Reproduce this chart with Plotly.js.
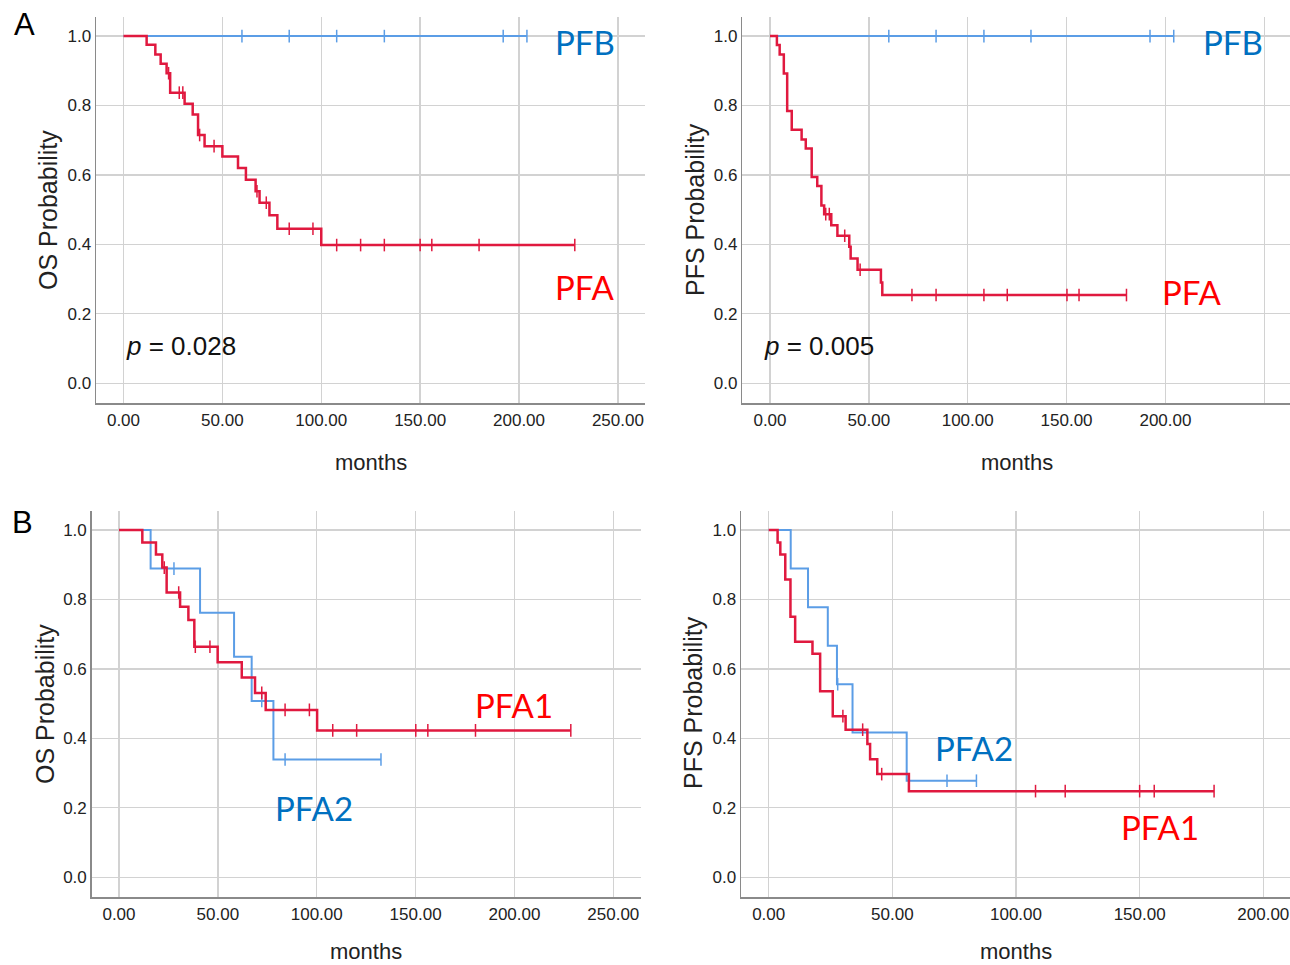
<!DOCTYPE html>
<html><head><meta charset="utf-8">
<script src="https://cdn.plot.ly/plotly-3.0.1.min.js"></script>
<style>body{margin:0;background:#fff}#chart{width:1290px;height:965px}</style>
</head><body><div id="chart"></div>
<script>
// ---------- tick labels ----------
const xTicksWide = [0, 50, 100, 150, 200, 250];
const xTicksNarrow = [0, 50, 100, 150, 200];
const yTicks = [0, 0.2, 0.4, 0.6, 0.8, 1.0];

// ---------- Panel A, OS: PFB vs PFA ----------
const osPfbTimes = [0];
const osPfbSurv = [1.0];
const osPfbCensor = [59.9, 83.8, 107.8, 131.9, 192.0, 204.0];

const osPfaTimes = [0, 11.7, 16.1, 18.8, 21.8, 23.6, 30.9, 35.0, 37.7, 41.0, 50.0, 57.9, 61.9, 66.8, 68.8, 73.8, 77.8, 100.0];
const osPfaSurv  = [1.0, 0.975, 0.947, 0.920, 0.893, 0.837, 0.805, 0.774, 0.715, 0.683, 0.653, 0.620, 0.586, 0.553, 0.520, 0.484, 0.445, 0.398];
const osPfaCensor = [22.8, 28.2, 30.0, 38.5, 45.8, 67.5, 72.2, 83.8, 95.8, 107.8, 119.9, 131.9, 150.0, 155.9, 179.8, 228.2];

// ---------- Panel A, PFS: PFB vs PFA ----------
const pfsPfbTimes = [0];
const pfsPfbSurv = [1.0];
const pfsPfbCensor = [60.1, 84.0, 108.2, 132.0, 192.2, 204.2];

const pfsPfaTimes = [0, 3.5, 4.9, 7.0, 8.7, 11.0, 16.0, 18.1, 21.1, 23.9, 26.0, 27.4, 31.0, 34.1, 40.1, 40.8, 44.3, 56.1, 56.8];
const pfsPfaSurv  = [1.0, 0.974, 0.947, 0.892, 0.784, 0.730, 0.702, 0.676, 0.594, 0.568, 0.512, 0.487, 0.455, 0.425, 0.393, 0.359, 0.327, 0.290, 0.254];
const pfsPfaCensor = [28.2, 30.0, 37.8, 45.6, 71.8, 84.0, 108.2, 120.0, 150.2, 156.3, 180.3];

// ---------- Panel B, OS: PFA1 vs PFA2 ----------
const osPfa2Times = [0, 16.0, 41.0, 58.2, 67.1, 78.1];
const osPfa2Surv  = [1.0, 0.889, 0.762, 0.635, 0.508, 0.339];
const osPfa2Censor = [27.8, 72.2, 84.0, 132.5];

const osPfa1Times = [0, 11.8, 18.7, 21.9, 24.1, 30.9, 35.1, 38.1, 49.9, 62.1, 68.8, 74.2, 100.2];
const osPfa1Surv  = [1.0, 0.964, 0.930, 0.892, 0.820, 0.779, 0.741, 0.664, 0.619, 0.575, 0.531, 0.482, 0.423];
const osPfa1Censor = [22.9, 30.2, 38.6, 46.0, 72.2, 84.0, 96.3, 108.1, 120.2, 150.1, 156.2, 180.3, 228.5];

// ---------- Panel B, PFS: PFA1 vs PFA2 ----------
const pfsPfa2Times = [0, 8.9, 15.9, 23.9, 27.6, 33.9, 55.8];
const pfsPfa2Surv  = [1.0, 0.889, 0.778, 0.667, 0.556, 0.417, 0.278];
const pfsPfa2Censor = [27.9, 72.1, 84.0];

const pfsPfa1Times = [0, 3.6, 4.7, 6.7, 8.8, 10.7, 17.7, 20.8, 25.9, 31.1, 39.9, 41.0, 43.9, 56.7];
const pfsPfa1Surv  = [1.0, 0.964, 0.930, 0.858, 0.750, 0.678, 0.644, 0.536, 0.464, 0.425, 0.384, 0.340, 0.297, 0.248];
const pfsPfa1Censor = [30.0, 38.0, 45.7, 107.9, 119.9, 150.0, 155.9, 180.1];

// ---------- styling / layout ----------
const W = 1290, H = 965;
const RED = '#e0193f', BLUE = '#5b9de6';
const LBL_BLUE = '#0070c0', LBL_RED = '#ff0000';
const tickFont = {family: 'Liberation Sans, Arial, sans-serif', size: 17, color: '#222'};
const titleFont = {family: 'Liberation Sans, Arial, sans-serif', size: 22, color: '#222'};
const yTitleFont = {family: 'Liberation Sans, Arial, sans-serif', size: 25, color: '#222'};
const tagFont = (c) => ({family: 'Lato, Open Sans, sans-serif', size: 33, color: c});

function survAt(times, surv, t) {
  let v = surv[0];
  for (let i = 0; i < times.length; i++) if (times[i] <= t) v = surv[i];
  return v;
}
function curve(times, surv, censor, color, width, ax) {
  const end = Math.max(times[times.length - 1], censor[censor.length - 1]);
  const xs = times.concat([end]);
  const ys = surv.concat([surv[surv.length - 1]]);
  return [
    {x: xs, y: ys, type: 'scatter', mode: 'lines', line: {shape: 'hv', color: color, width: width},
     xaxis: ax[0], yaxis: ax[1], hoverinfo: 'skip', showlegend: false},
    {x: censor, y: censor.map(t => survAt(times, surv, t)), type: 'scatter', mode: 'markers',
     marker: {symbol: 'line-ns', size: 9, line: {color: color, width: 1.5}},
     xaxis: ax[0], yaxis: ax[1], hoverinfo: 'skip', showlegend: false}
  ];
}

const panels = [
  {dom: [96, 645, 17, 403], xr: [-13.9, 263.7], ticks: xTicksWide},
  {dom: [742.3, 1290, 17, 403], xr: [-14.0, 263.0], ticks: xTicksWide},
  {dom: [91.7, 641, 511, 897], xr: [-13.8, 264.0], ticks: xTicksWide},
  {dom: [741, 1290, 511, 897], xr: [-11.2, 210.8], ticks: xTicksNarrow}
];

const layout = {
  width: W, height: H, margin: {l: 0, r: 0, t: 0, b: 0},
  paper_bgcolor: '#fff', plot_bgcolor: '#fff', showlegend: false,
  annotations: [], shapes: []
};
panels.forEach((p, i) => {
  const n = i === 0 ? '' : String(i + 1);
  layout['xaxis' + n] = {
    domain: [p.dom[0] / W, p.dom[1] / W], range: p.xr, anchor: 'y' + n,
    tickvals: p.ticks, tickformat: '.2f', ticks: '', ticklabelstandoff: 1,
    showgrid: true, gridcolor: '#d2d2d2', gridwidth: 1.4, zeroline: false,
    showline: true, linecolor: '#8a8a8a', linewidth: 1.5, tickfont: tickFont, fixedrange: true
  };
  layout['yaxis' + n] = {
    domain: [1 - p.dom[3] / H, 1 - p.dom[2] / H], range: [-0.057, 1.055], anchor: 'x' + n,
    tickvals: yTicks, tickformat: '.1f', ticks: '', ticklabelstandoff: 0,
    showgrid: true, gridcolor: '#d2d2d2', gridwidth: 1.4, zeroline: false,
    showline: true, linecolor: '#8a8a8a', linewidth: 1.5, tickfont: tickFont, fixedrange: true
  };
});

function ann(text, px, py, font, extra) {
  layout.annotations.push(Object.assign({
    text: text, x: px / W, y: 1 - py / H, xref: 'paper', yref: 'paper',
    showarrow: false, font: font, xanchor: 'center', yanchor: 'middle'
  }, extra || {}));
}
// axis titles
ann('months', 371, 462, titleFont);
ann('months', 1017, 462, titleFont);
ann('months', 366, 951, titleFont);
ann('months', 1016, 951, titleFont);
ann('OS Probability', 48, 210, yTitleFont, {textangle: -90});
ann('PFS Probability', 695, 210, yTitleFont, {textangle: -90});
ann('OS Probability', 45, 704, yTitleFont, {textangle: -90});
ann('PFS Probability', 693, 703, yTitleFont, {textangle: -90});
// panel letters
ann('A', 24, 25, {family: 'Liberation Sans, Arial, sans-serif', size: 31, color: '#000'});
ann('B', 22, 522, {family: 'Liberation Sans, Arial, sans-serif', size: 31, color: '#000'});
// p values
const pFont = {family: 'Liberation Sans, Arial, sans-serif', size: 26, color: '#111'};
ann('<i>p</i> = 0.028', 124, 346, pFont, {xanchor: 'left'});
ann('<i>p</i> = 0.005', 762, 346, pFont, {xanchor: 'left'});
// group labels
ann('PFB', 585, 42, tagFont(LBL_BLUE));
ann('PFA', 585, 287, tagFont(LBL_RED));
ann('PFB', 1233, 42, tagFont(LBL_BLUE));
ann('PFA', 1192, 292, tagFont(LBL_RED));
ann('PFA1', 514, 705, tagFont(LBL_RED));
ann('PFA2', 314, 808, tagFont(LBL_BLUE));
ann('PFA2', 974, 748, tagFont(LBL_BLUE));
ann('PFA1', 1160, 827, tagFont(LBL_RED));

const data = [].concat(
  curve(osPfbTimes, osPfbSurv, osPfbCensor, BLUE, 2, ['x', 'y']),
  curve(osPfaTimes, osPfaSurv, osPfaCensor, RED, 2.5, ['x', 'y']),
  curve(pfsPfbTimes, pfsPfbSurv, pfsPfbCensor, BLUE, 2, ['x2', 'y2']),
  curve(pfsPfaTimes, pfsPfaSurv, pfsPfaCensor, RED, 2.5, ['x2', 'y2']),
  curve(osPfa2Times, osPfa2Surv, osPfa2Censor, BLUE, 2, ['x3', 'y3']),
  curve(osPfa1Times, osPfa1Surv, osPfa1Censor, RED, 2.5, ['x3', 'y3']),
  curve(pfsPfa2Times, pfsPfa2Surv, pfsPfa2Censor, BLUE, 2, ['x4', 'y4']),
  curve(pfsPfa1Times, pfsPfa1Surv, pfsPfa1Censor, RED, 2.5, ['x4', 'y4'])
);

Plotly.newPlot('chart', data, layout, {staticPlot: true, displayModeBar: false});
</script>
</body></html>
